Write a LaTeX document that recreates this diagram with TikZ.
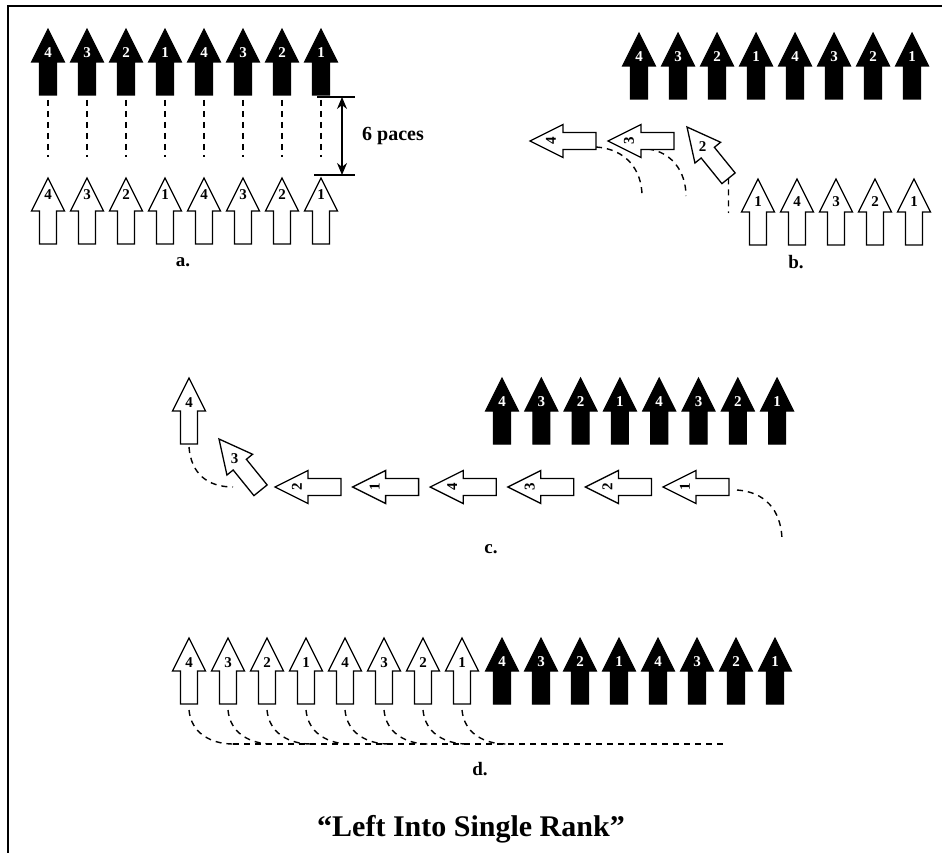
\documentclass[tikz,border=0pt]{standalone}
\usepackage{fontspec}
\setmainfont{Liberation Serif}
\usetikzlibrary{arrows.meta}
\tikzset{
  bpath/.style={fill=black, draw=black, line width=1.1pt},
  wpath/.style={fill=white, draw=black, line width=1.3pt},
  blbl/.style={text=white, inner sep=0pt, font=\bfseries\fontsize{15}{15}\selectfont},
  wlbl/.style={text=black, inner sep=0pt, font=\bfseries\fontsize{15}{15}\selectfont},
  guide/.style={line width=1.4pt, dash pattern=on 6pt off 5pt},
  caption/.style={font=\bfseries\fontsize{19}{19}\selectfont},
  dimline/.style={line width=1.1pt},
}
\newcommand\arr[8]{%
  \begin{scope}[shift={(#2,#3)},rotate=#4]
    \draw[#5path] (0,0) -- (16.5,33) -- (8.5,33) -- (8.5,66) -- (-8.5,66) -- (-8.5,33) -- (-16.5,33) -- cycle;
    \node[#5lbl,#7] (#1) at (0,#8) {#6};
    \coordinate (#1-tip) at (0,0);
    \coordinate (#1-tail) at (0,66);
  \end{scope}}
\begin{document}
\begin{tikzpicture}[x=1pt,y=-1pt]
\useasboundingbox (0,0) rectangle (942,853);
\fill[white] (0,0) rectangle (942,853);
% frame
\coordinate (frBL) at (8,853);
\coordinate (frTL) at (8,6);
\coordinate (frTR) at (942,6);
\draw[line width=1.5pt] (frBL) -- (frTL) -- (frTR);

% ---------- panel a ----------
\foreach \l [count=\i from 0] in {4,3,2,1,4,3,2,1}{
  \arr{ab\i}{48+39*\i}{29}{0}{b}{\l}{}{24}
  \arr{aw\i}{48+39*\i}{178}{0}{w}{\l}{}{17}
}
\foreach \i in {0,...,7}{
  \draw[guide] ([yshift=-5pt]ab\i-tail) -- ([yshift=21pt]aw\i-tip);
}
\coordinate (dimT) at (342,97);
\coordinate (dimB) at (342,175);
\coordinate (dimTa) at (317,97);
\coordinate (dimTb) at (355,97);
\coordinate (dimBa) at (314,175);
\coordinate (dimBb) at (355,175);
\draw[dimline] (dimTa) -- (dimTb);
\draw[dimline] (dimBa) -- (dimBb);
\draw[dimline,{Stealth[length=12pt,width=10pt]}-{Stealth[length=12pt,width=10pt]}] (dimT) -- (dimB);
\node[font=\bfseries\fontsize{20}{20}\selectfont] (paces) at (393,136) {6 paces};
\node[caption] (capa) at (183,262) {a.};

% ---------- panel b ----------
\coordinate (barc1s) at (596,147);
\coordinate (barc1e) at (642,196);
\coordinate (barc2s) at (648,149);
\coordinate (barc2e) at (686,196);
\draw[guide] (barc1s) .. controls (626,149) and (642,170) .. (barc1e);
\draw[guide] (barc2s) .. controls (672,152) and (686,172) .. (barc2e);
\foreach \l [count=\i from 0] in {4,3,2,1,4,3,2,1}{
  \arr{bb\i}{639+39*\i}{33}{0}{b}{\l}{}{24}
}
\foreach \l [count=\i from 0] in {1,4,3,2,1}{
  \arr{bw\i}{758+39*\i}{179}{0}{w}{\l}{}{23}
}
\arr{bt}{687}{127}{39}{w}{2}{}{25}
\arr{bh3}{608}{141}{90}{w}{3}{transform shape}{21}
\arr{bh4}{530}{141}{90}{w}{4}{transform shape}{21}
\coordinate (bdrop) at (728.5,213);
\draw[guide] (bt-tail) -- (bdrop);
\node[caption] (capb) at (796,262) {b.};

% ---------- panel c ----------
\foreach \l [count=\i from 0] in {4,3,2,1,4,3,2,1}{
  \arr{cb\i}{502+39.3*\i}{378}{0}{b}{\l}{}{24}
}
\foreach \l [count=\i from 0] in {2,1,4,3,2,1}{
  \arr{ch\i}{275+77.6*\i}{487}{90}{w}{\l}{transform shape}{22}
}
\arr{ct}{219}{439}{39}{w}{3}{}{25}
\arr{cu}{189}{378}{0}{w}{4}{}{25}
\coordinate (carcL) at (233,487);
\coordinate (carcRs) at (737,490);
\coordinate (carcRe) at (782,539);
\draw[guide] ([yshift=-3pt]cu-tail) .. controls (191,474) and (208,487) .. (carcL);
\draw[guide] (carcRs) .. controls (765,492) and (781,510) .. (carcRe);
\node[caption] (capc) at (491,549) {c.};

% ---------- panel d ----------
\foreach \l [count=\i from 0] in {4,3,2,1,4,3,2,1}{
  \arr{dw\i}{189+39*\i}{638}{0}{w}{\l}{}{25}
  \arr{db\i}{502+39*\i}{638}{0}{b}{\l}{}{24}
}
\foreach \i in {0,...,7}{
  \coordinate (ds\i) at (189+39*\i,710);
  \coordinate (de\i) at (233+39*\i,744);
  \draw[guide] (ds\i) .. controls (191+39*\i,733) and (211+39*\i,744) .. (de\i);
}
\coordinate (dlineEnd) at (725,744);
\draw[guide] (de0) -- (dlineEnd);
\node[caption] (capd) at (480,769) {d.};

% title
\node[font=\bfseries\fontsize{30}{30}\selectfont] (title) at (471,829) {“Left Into Single Rank”};
\end{tikzpicture}
\end{document}
